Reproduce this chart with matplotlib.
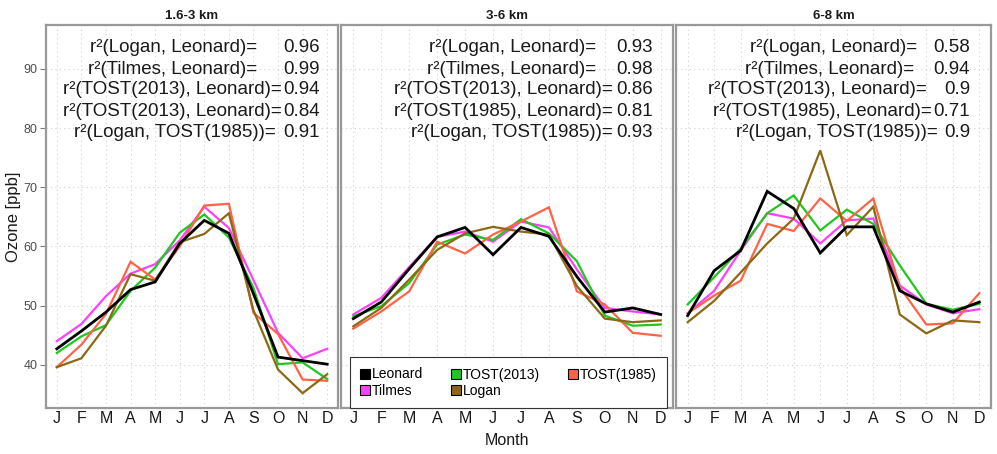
import matplotlib
matplotlib.use('Agg')
import matplotlib.pyplot as plt
from matplotlib.patches import Patch

plt.rcParams['font.family'] = ['Liberation Sans', 'DejaVu Sans']

months = ['J', 'F', 'M', 'A', 'M', 'J', 'J', 'A', 'S', 'O', 'N', 'D']
panel_titles = ['1.6-3 km', '3-6 km', '6-8 km']
series_names = ['Leonard', 'Tilmes', 'TOST(2013)', 'Logan', 'TOST(1985)']
yticks = [40, 50, 60, 70, 80, 90]

# 1.6-3 km
leonard_1 = [42.7, 45.7, 48.9, 52.7, 54.0, 60.5, 64.4, 62.2, 52.0, 41.3, 40.7, 40.1]
tilmes_1 = [44.0, 46.9, 51.6, 55.4, 57.0, 61.0, 66.7, 63.1, 54.3, 45.4, 41.1, 42.7]
tost2013_1 = [42.0, 44.8, 46.7, 52.5, 56.4, 62.3, 65.4, 61.5, 53.0, 40.1, 40.4, 37.6]
tost1985_1 = [39.6, 43.4, 48.6, 57.4, 54.4, 60.0, 66.9, 67.2, 48.8, 45.2, 37.5, 37.3]
logan_1 = [39.6, 41.1, 46.6, 55.3, 54.2, 60.7, 62.1, 65.6, 49.2, 39.2, 35.2, 38.4]

# 3-6 km
leonard_2 = [47.8, 50.6, 56.2, 61.6, 63.2, 58.6, 63.2, 61.7, 54.9, 48.9, 49.6, 48.5]
tilmes_2 = [48.5, 51.3, 56.5, 61.6, 62.5, 60.8, 64.2, 63.2, 56.1, 49.6, 49.0, 48.5]
tost2013_2 = [48.2, 49.9, 53.8, 60.3, 62.0, 61.1, 64.6, 62.2, 57.5, 48.3, 46.6, 46.8]
tost1985_2 = [46.1, 49.0, 52.4, 60.8, 58.8, 62.0, 64.2, 66.6, 52.4, 50.2, 45.4, 44.9]
logan_2 = [46.5, 49.6, 54.4, 59.4, 62.2, 63.3, 62.5, 62.0, 53.3, 47.8, 47.2, 47.5]

# 6-8 km
leonard_3 = [48.3, 55.9, 59.3, 69.3, 66.4, 58.9, 63.3, 63.3, 52.5, 50.3, 48.9, 50.6]
tilmes_3 = [48.7, 52.5, 59.3, 65.6, 64.7, 60.5, 64.4, 64.7, 53.4, 50.2, 48.7, 49.4]
tost2013_3 = [50.2, 54.8, 59.6, 65.6, 68.6, 62.7, 66.2, 63.8, 56.8, 50.3, 49.3, 50.3]
tost1985_3 = [48.7, 51.7, 54.2, 63.8, 62.6, 68.1, 64.3, 68.1, 53.1, 46.8, 47.0, 52.1]
logan_3 = [47.2, 50.8, 55.6, 60.5, 64.7, 76.2, 61.9, 66.7, 48.5, 45.3, 47.5, 47.2]

# r^2 annotation texts
r2_labels_1 = ['r²(Logan, Leonard)=', 'r²(Tilmes, Leonard)=', 'r²(TOST(2013), Leonard)=',
               'r²(TOST(2013), Leonard)=', 'r²(Logan, TOST(1985))=']
r2_values_1 = ['0.96', '0.99', '0.94', '0.84', '0.91']
r2_labels_2 = ['r²(Logan, Leonard)=', 'r²(Tilmes, Leonard)=', 'r²(TOST(2013), Leonard)=',
               'r²(TOST(1985), Leonard)=', 'r²(Logan, TOST(1985))=']
r2_values_2 = ['0.93', '0.98', '0.86', '0.81', '0.93']
r2_labels_3 = ['r²(Logan, Leonard)=', 'r²(Tilmes, Leonard)=', 'r²(TOST(2013), Leonard)=',
               'r²(TOST(1985), Leonard)=', 'r²(Logan, TOST(1985))=']
r2_values_3 = ['0.58', '0.94', '0.9', '0.71', '0.9']

colors = {'Leonard': '#000000', 'Tilmes': '#FF40FF', 'TOST(2013)': '#1EC81E',
          'Logan': '#8B6914', 'TOST(1985)': '#FF6347'}
widths = {'Leonard': 2.0, 'Tilmes': 1.6, 'TOST(2013)': 1.6, 'Logan': 1.6, 'TOST(1985)': 1.6}
draw_order = ['Tilmes', 'TOST(2013)', 'TOST(1985)', 'Logan', 'Leonard']

panels = [
    {'Leonard': leonard_1, 'Tilmes': tilmes_1, 'TOST(2013)': tost2013_1, 'TOST(1985)': tost1985_1, 'Logan': logan_1},
    {'Leonard': leonard_2, 'Tilmes': tilmes_2, 'TOST(2013)': tost2013_2, 'TOST(1985)': tost1985_2, 'Logan': logan_2},
    {'Leonard': leonard_3, 'Tilmes': tilmes_3, 'TOST(2013)': tost2013_3, 'TOST(1985)': tost1985_3, 'Logan': logan_3},
]
r2_labels = [r2_labels_1, r2_labels_2, r2_labels_3]
r2_values = [r2_values_1, r2_values_2, r2_values_3]

W, H = 997, 454
fig = plt.figure(figsize=(W / 100, H / 100), dpi=100)

# axes extents in pixels (left, right)
px_x = [(46, 338), (341, 673), (676, 991)]
top_px, bot_px = 25, 408
# gap (px) between the "=" of each label and the start of its value
label_gap = [[26, 26, 1.5, 1.5, 8],
             [20, 20, 4, 4, 4],
             [16, 19, 17, 1.5, 6]]
value_right_px = [320, 653, 970]
baselines_px = [52.5, 73.5, 94.5, 115.5, 137]
ann_size = 13.5

xs = list(range(1, 13))
axes = []
value_texts = []
for i, (x0, x1) in enumerate(px_x):
    ax = fig.add_axes([x0 / W, 1 - bot_px / H, (x1 - x0) / W, (bot_px - top_px) / H])
    axes.append(ax)
    data = panels[i]
    for name in draw_order:
        ax.plot(xs, data[name], color=colors[name], lw=widths[name], solid_joinstyle='miter')
    ax.set_xlim(0.56, 12.44)
    ax.set_ylim(32.7, 97.4)
    ax.set_xticks(xs)
    ax.set_xticklabels(months, fontsize=11.5, color='#1a1a1a')
    ax.set_yticks(yticks)
    ax.grid(True, color='#d0d0d0', linestyle=(0, (1, 3)), linewidth=0.8)
    ax.set_axisbelow(True)
    ax.tick_params(axis='x', length=0, pad=2.5)
    if i == 0:
        ax.tick_params(axis='y', length=4, width=0.8, color='#7f7f7f', labelsize=9,
                       labelcolor='#4d4d4d', pad=2)
        ax.set_ylabel('Ozone [ppb]', fontsize=12, color='#1a1a1a', labelpad=2)
    else:
        ax.tick_params(axis='y', length=0, labelleft=False)
    for sp in ax.spines.values():
        sp.set_color('#999999')
        sp.set_linewidth(1.6)
    ax.set_title(panel_titles[i], fontsize=9.5, fontweight='bold', pad=4, color='#1a1a1a')

    # r^2 values (right aligned column)
    vx = (value_right_px[i] - x0) / (x1 - x0)
    row = []
    for j, val in enumerate(r2_values[i]):
        yb = 1 - (baselines_px[j] - top_px) / (bot_px - top_px)
        t = ax.text(vx, yb, val, transform=ax.transAxes, ha='right', va='baseline',
                    fontsize=ann_size, color='#1a1a1a')
        row.append((t, yb))
    value_texts.append(row)

axes[1].set_xlabel('Month', fontsize=11.5, color='#1a1a1a', labelpad=5)

# labels placed to end just left of each value
fig.canvas.draw()
renderer = fig.canvas.get_renderer()
for i, ax in enumerate(axes):
    for j, (t, yb) in enumerate(value_texts[i]):
        bb = t.get_window_extent(renderer)
        xa = ax.transAxes.inverted().transform((bb.x0, bb.y0))[0]
        ax.annotate(r2_labels[i][j], xy=(xa, yb),
                    xycoords='axes fraction', xytext=(-label_gap[i][j], 0),
                    textcoords='offset pixels', ha='right', va='baseline',
                    fontsize=ann_size, color='#1a1a1a')

handles = [Patch(facecolor=colors[n], edgecolor='black', linewidth=0.8) for n in series_names]
ax2 = axes[1]
leg = ax2.legend(handles, series_names, ncol=3, loc='lower left',
                 bbox_to_anchor=(9 / 332, 0.0, 317 / 332, 0.13), mode='expand',
                 borderaxespad=0, fontsize=10, frameon=True, fancybox=False,
                 handlelength=0.7, handleheight=0.7, handletextpad=0.15,
                 labelspacing=0.15, borderpad=0.75, columnspacing=1.0)
leg.get_frame().set_edgecolor('#333333')
leg.get_frame().set_linewidth(0.8)
leg.get_frame().set_alpha(1)

fig.savefig('out.png', dpi=100)
